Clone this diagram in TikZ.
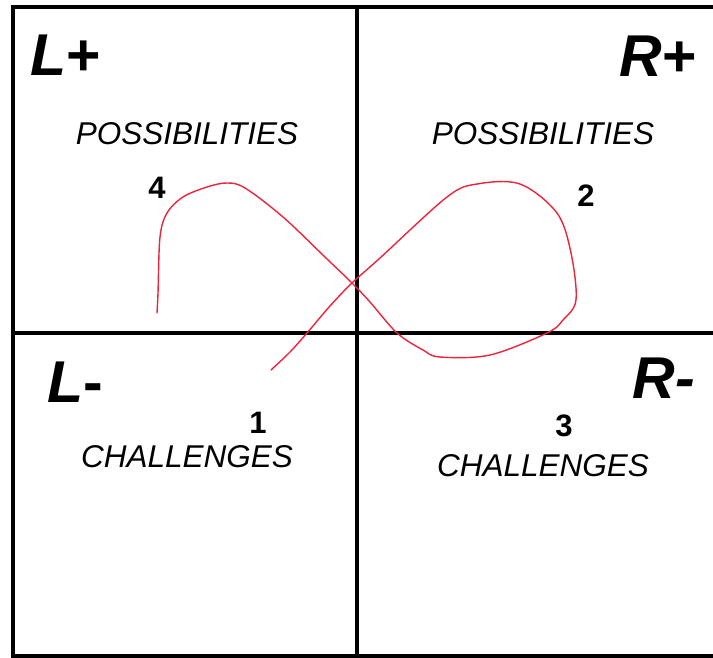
\documentclass[tikz,border=0pt]{standalone}
\usepackage{fontspec}
\setmainfont{Liberation Sans}
\definecolor{curvered}{RGB}{236,36,60}
\begin{document}
\begin{tikzpicture}[x=1pt,y=-1pt,
  frame/.style={line width=4pt},
  big/.style={inner sep=0pt,font=\fontsize{59}{60}\selectfont\bfseries\itshape},
  word/.style={inner sep=0pt,anchor=base,font=\fontsize{31.5}{32}\selectfont\itshape},
  num/.style={inner sep=0pt,anchor=base,font=\fontsize{31}{32}\selectfont\bfseries},
  loop/.style={curvered,line width=1.4pt,line cap=round,line join=round}]
\useasboundingbox (0,0) rectangle (713,658);
% frame and dividers
\draw[frame] (713,7) -- (13,7) -- (13,656) -- (713,656);
\draw[frame] (357,7) -- (357,656);
\draw[frame] (13,333) -- (713,333);
% big labels
\node[big,anchor=base west] (lp) at (30,76) {L\textup{+}};
\node[big,anchor=base east] (rp) at (697,77) {R\textup{+}};
\node[big,anchor=base west] (lm) at (47,402) {L\textup{-}};
\node[big,anchor=base east] (rm) at (695,398) {R-};
% words
\node[word] (pl) at (187,145) {POSSIBILITIES};
\node[word] (pr) at (543,145) {POSSIBILITIES};
\node[word] (cl) at (187,467) {CHALLENGES};
\node[word] (cr) at (543,476) {CHALLENGES};
% numbers
\node[num] (n4) at (157,199) {4};
\node[num] (n2) at (586,207) {2};
\node[num] (n1) at (258,433) {1};
\node[num] (n3) at (564,436) {3};
% red loop
\draw[loop] plot[smooth,tension=0.55] coordinates {
 (271,370) (290,352) (307,333) (330,306) (352,283) (380,258)
 (447,197) (477,184) (520,184) (557,213) (571,253) (576,300) (563,320)
 (547,333) (490,355) (440,357) (423,350) (397,333) (370,302) (352,283)
 (327,259) (283,217) (245,188) (227,183) (207,187) (183,197) (167,213)
 (160,237) (158,293) (157,313)};
\end{tikzpicture}
\end{document}
